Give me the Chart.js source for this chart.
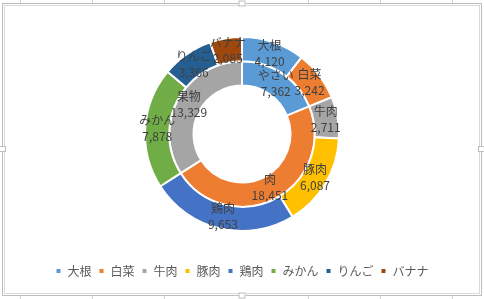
<!DOCTYPE html>
<html>
<head>
<meta charset="utf-8">
<script src="https://cdn.jsdelivr.net/npm/chart.js@4"></script>
<style>
  body { margin: 0; background: #fff; }
  #wrap { width: 484px; height: 299px; }
</style>
</head>
<body>
<div id="wrap"><canvas id="myChart" width="484" height="299"></canvas></div>
<script>
// outer ring (items)
var items = ["大根", "白菜", "牛肉", "豚肉", "鶏肉", "みかん", "りんご", "バナナ"]
var itemValues = [4120, 3242, 2711, 6087, 9653, 7878, 3366, 2085]
var itemColors = ["#5B9BD5", "#ED7D31", "#A5A5A5", "#FFC000", "#4472C4", "#70AD47", "#255E91", "#9E480E"]

// inner ring (groups)
var groups = ["やさい", "肉", "果物"]
var groupValues = [7362, 18451, 13329]
var groupColors = ["#5B9BD5", "#ED7D31", "#A5A5A5"]

var FONT = "'Noto Sans CJK JP', 'Noto Sans', sans-serif"

// excel-like frame around the chart
var framePlugin = {
    id: 'frame',
    beforeDraw: function(chart){
        var ctx = chart.ctx
        ctx.save()
        ctx.fillStyle = "#fff"
        ctx.fillRect(0, 0, 484, 299)
        // sheet column lines peeking above
        ctx.strokeStyle = "#D4D4D4"
        ctx.lineWidth = 1
        var cols = [20.5, 92.5, 164.5, 308.5, 380.5, 452.5]
        cols.forEach(function(x){
            ctx.beginPath(); ctx.moveTo(x, 0); ctx.lineTo(x, 3); ctx.stroke()
            ctx.beginPath(); ctx.moveTo(x, 296); ctx.lineTo(x, 299); ctx.stroke()
        })
        ctx.strokeStyle = "#BDBDBD"
        ctx.strokeRect(2.5, 3.5, 479, 292)
        ctx.strokeStyle = "#D9D9D9"
        ctx.strokeRect(4.5, 5.5, 475, 288)
        // handles
        ctx.fillStyle = "#fff"
        ctx.strokeStyle = "#BDBDBD"
        var hs = [[242, 3.5], [242, 295.5], [2.5, 149], [481.5, 149]]
        hs.forEach(function(h){
            ctx.fillRect(h[0] - 3, h[1] - 3, 7, 6)
            ctx.strokeRect(h[0] - 3.5 + 0.5, h[1] - 2.5, 6, 5)
        })
        ctx.restore()
    }
}

// data labels: name + value at the middle of each slice
var labelPlugin = {
    id: 'sliceLabels',
    afterDatasetsDraw: function(chart){
        var ctx = chart.ctx
        ctx.save()
        ctx.font = "12px " + FONT
        ctx.fillStyle = "#404040"
        ctx.textAlign = "center"
        ctx.textBaseline = "middle"
        chart.data.datasets.forEach(function(ds, i){
            var meta = chart.getDatasetMeta(i)
            meta.data.forEach(function(arc, j){
                var p = arc.tooltipPosition()
                ctx.fillText(ds.names[j], p.x, p.y - 8)
                ctx.fillText(ds.data[j].toLocaleString('en-US'), p.x, p.y + 8)
            })
        })
        ctx.restore()
    }
}

var myChart = document.getElementById("myChart").getContext('2d')
var chart = new Chart(myChart, {
    type: 'doughnut',
    data: {
        labels: items,
        datasets: [
            {
                data: itemValues,
                names: items,
                backgroundColor: itemColors,
                borderColor: "#fff",
                borderWidth: 2
            },
            {
                data: groupValues,
                names: groups,
                backgroundColor: groupColors,
                borderColor: "#fff",
                borderWidth: 2
            }
        ]
    },
    options: {
        responsive: false,
        animation: false,
        cutout: '50%',
        radius: 97,
        layout: { padding: { top: 10, bottom: 12, left: 0, right: 0 } },
        plugins: {
            tooltip: { enabled: false },
            legend: {
                position: 'bottom',
                labels: {
                    boxWidth: 6,
                    boxHeight: 6,
                    padding: 7,
                    color: "#595959",
                    font: { size: 12, family: FONT }
                }
            }
        }
    },
    plugins: [framePlugin, labelPlugin]
})
</script>
</body>
</html>
